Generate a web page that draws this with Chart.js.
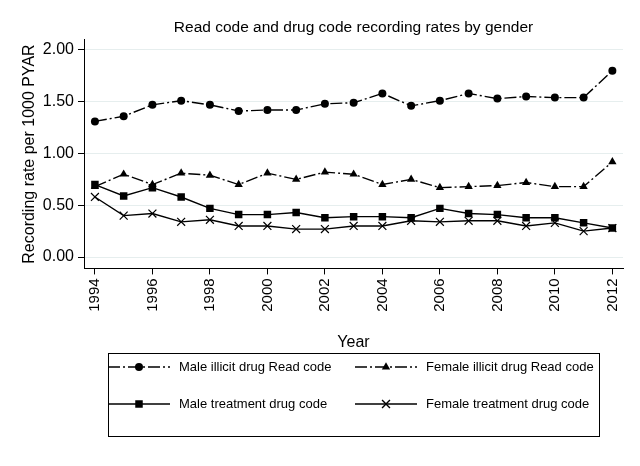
<!DOCTYPE html>
<html>
<head>
<meta charset="utf-8">
<script src="https://cdn.jsdelivr.net/npm/chart.js@4.4.0/dist/chart.umd.min.js"></script>
<style>
  body { margin: 0; background: #fff; }
</style>
</head>
<body>
<canvas id="rates" width="640" height="466"></canvas>
<script>
// values
const years = [1994, 1995, 1996, 1997, 1998, 1999, 2000, 2001, 2002, 2003,
               2004, 2005, 2006, 2007, 2008, 2009, 2010, 2011, 2012];
const xTicks = [1994, 1996, 1998, 2000, 2002, 2004, 2006, 2008, 2010, 2012];
const yTicks = [0, 0.5, 1, 1.5, 2];

const maleIllicit     = [1.31, 1.36, 1.47, 1.51, 1.47, 1.41, 1.42, 1.42, 1.48, 1.49,
                         1.58, 1.46, 1.51, 1.58, 1.53, 1.55, 1.54, 1.54, 1.80];
const femaleIllicit   = [0.68, 0.80, 0.70, 0.81, 0.79, 0.70, 0.81, 0.75, 0.82, 0.80,
                         0.70, 0.75, 0.67, 0.68, 0.69, 0.72, 0.68, 0.68, 0.92];
const maleTreatment   = [0.70, 0.59, 0.67, 0.58, 0.47, 0.41, 0.41, 0.43, 0.38, 0.39,
                         0.39, 0.38, 0.47, 0.42, 0.41, 0.38, 0.38, 0.33, 0.28];
const femaleTreatment = [0.58, 0.40, 0.42, 0.34, 0.36, 0.30, 0.30, 0.27, 0.27, 0.30,
                         0.30, 0.35, 0.34, 0.35, 0.35, 0.30, 0.33, 0.25, 0.28];

const seriesNames = ['Male illicit drug Read code', 'Female illicit drug Read code',
                     'Male treatment drug code', 'Female treatment drug code'];

const FONT = '"Liberation Sans", Arial, sans-serif';
Chart.defaults.font.family = FONT;
Chart.defaults.color = '#000';

function pts(vals) {
  return vals.map((v, i) => ({ x: years[i], y: v }));
}

function series(label, vals, style, radius, dash) {
  return {
    label: label,
    data: pts(vals),
    borderColor: '#000',
    backgroundColor: '#000',
    borderWidth: 1.4,
    borderDash: dash,
    pointStyle: style,
    pointRadius: radius,
    pointHoverRadius: radius,
    pointBorderColor: '#000',
    pointBackgroundColor: '#000',
    pointBorderWidth: style === 'crossRot' ? 1.2 : 0,
    tension: 0,
    fill: false
  };
}

// legend drawn in a box under the plot, two columns
const boxLegend = {
  id: 'boxLegend',
  afterDraw(chart) {
    const ctx = chart.ctx;
    ctx.save();
    ctx.strokeStyle = '#000';
    ctx.lineWidth = 1;
    ctx.strokeRect(108.5, 353.5, 491, 83);
    chart.data.datasets.forEach((ds, i) => {
      const col = i % 2, row = Math.floor(i / 2);
      const x0 = col ? 355 : 108;
      const y = row ? 404 : 367;
      ctx.beginPath();
      ctx.setLineDash(ds.borderDash || []);
      ctx.lineWidth = ds.borderWidth;
      ctx.moveTo(x0, y);
      ctx.lineTo(x0 + 62, y);
      ctx.stroke();
      ctx.setLineDash([]);
      Chart.helpers.drawPoint(ctx, {
        pointStyle: ds.pointStyle,
        radius: ds.pointRadius,
        borderWidth: ds.pointBorderWidth
      }, x0 + 31, y);
      ctx.fillStyle = '#000';
      ctx.font = '13px ' + FONT;
      ctx.textBaseline = 'middle';
      ctx.fillText(ds.label, x0 + 71, y);
    });
    ctx.restore();
  }
};

new Chart(document.getElementById('rates').getContext('2d'), {
  type: 'line',
  data: {
    datasets: [
      series(seriesNames[0], maleIllicit, 'circle', 4, [12, 3, 2, 3]),
      series(seriesNames[1], femaleIllicit, 'triangle', 4.8, [12, 3, 2, 3]),
      series(seriesNames[2], maleTreatment, 'rect', 5.3, []),
      series(seriesNames[3], femaleTreatment, 'crossRot', 5.6, [])
    ]
  },
  options: {
    responsive: false,
    animation: false,
    layout: { padding: { left: 0, right: 17, top: 0, bottom: 110 } },
    plugins: {
      legend: { display: false },
      tooltip: { enabled: false },
      title: {
        display: true,
        fullSize: false,
        text: 'Read code and drug code recording rates by gender',
        color: '#000',
        font: { size: 15.5, weight: 'normal' },
        padding: { top: 18, bottom: 3 }
      }
    },
    scales: {
      x: {
        type: 'linear',
        min: 1993.62,
        max: 2012.37,
        afterBuildTicks: s => { s.ticks = xTicks.map(v => ({ value: v })); },
        grid: { drawOnChartArea: false, tickColor: '#000', tickLength: 6 },
        border: { color: '#000', width: 1 },
        ticks: {
          autoSkip: false,
          minRotation: 90,
          maxRotation: 90,
          padding: 4,
          color: '#000',
          font: { size: 15 },
          callback: v => String(v)
        },
        title: {
          display: true,
          text: 'Year',
          color: '#000',
          font: { size: 16 },
          padding: { top: 17, bottom: 4 }
        }
      },
      y: {
        min: -0.11,
        max: 2.1,
        afterBuildTicks: s => { s.ticks = yTicks.map(v => ({ value: v })); },
        afterFit: s => { s.width = 84; },
        grid: { color: '#e6eeee', tickColor: '#000', tickLength: 6 },
        border: { color: '#000', width: 1 },
        ticks: {
          padding: 4,
          color: '#000',
          font: { size: 16 },
          callback: v => v.toFixed(2)
        },
        title: {
          display: true,
          text: 'Recording rate per 1000 PYAR',
          color: '#000',
          font: { size: 16 },
          padding: { top: 20, bottom: 0 }
        }
      }
    }
  },
  plugins: [boxLegend]
});
</script>
</body>
</html>
